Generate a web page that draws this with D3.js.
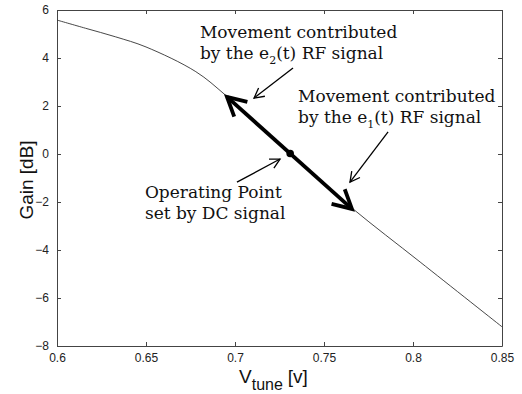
<!DOCTYPE html>
<html>
<head>
<meta charset="utf-8">
<script src="https://cdn.jsdelivr.net/npm/d3@7"></script>
<style>
  body { margin: 0; background: #fff; }
  .tick text { font-family: "Liberation Sans", Arial, sans-serif; font-size: 12px; fill: #222; }
  .note { font-family: "DejaVu Serif", serif; font-size: 17px; fill: #111; }
</style>
</head>
<body>
<div id="chart"></div>
<script>
// gain curve
const vtune = [0.600, 0.616, 0.633, 0.650, 0.678, 0.695, 0.731, 0.766, 0.804, 0.850];
const gain  = [5.58, 5.24, 4.88, 4.46, 3.43, 2.43, 0.00, -2.27, -4.50, -7.20];
const xTicks = [0.6, 0.65, 0.7, 0.75, 0.8, 0.85];
const yTicks = [-8, -6, -4, -2, 0, 2, 4, 6];

// operating point and the RF swing around it
const opPoint = [0.731, 0.02];
const swingEnds = [[0.6955, 2.38], [0.7657, -2.29]];

// annotation arrows: [from v, from g, to v, to g]
const noteArrows = [
  [0.7326, 3.58, 0.7107, 2.33],
  [0.7860, 0.92, 0.7646, -1.17],
  [0.7011, -1.17, 0.7253, -0.21]
];
// annotation texts: anchor [v, g], lines
const noteTexts = [
  { at: [0.6803, 4.85], lines: ["Movement contributed", ["by the e", "2", "(t) RF signal"]] },
  { at: [0.7354, 2.17], lines: ["Movement contributed", ["by the e", "1", "(t) RF signal"]] },
  { at: [0.6494, -1.83], lines: ["Operating Point", "set by DC signal"] }
];

const width = 522, height = 394;
const margin = { left: 57, top: 10, right: 20, bottom: 48 };
const innerWidth = width - margin.left - margin.right;
const innerHeight = height - margin.top - margin.bottom;

const svg = d3.select("#chart").append("svg")
  .attr("width", width)
  .attr("height", height);

const g = svg.append("g")
  .attr("transform", "translate(" + margin.left + "," + margin.top + ")");

const x = d3.scaleLinear().domain([0.6, 0.85]).range([0, innerWidth]);
const y = d3.scaleLinear().domain([-8, 6]).range([innerHeight, 0]);

const fmtX = d => "" + d;
const fmtY = d => (d < 0 ? "\u2212" + Math.abs(d) : "" + d);
const noLabels = a => a.selectAll(".tick text").remove();

// axes, ticks pointing inward (matlab style)
g.append("g")
  .attr("transform", "translate(0," + innerHeight + ")")
  .call(d3.axisBottom(x).tickValues(xTicks).tickFormat(fmtX).tickSizeInner(-4).tickSizeOuter(0).tickPadding(7));
g.append("g")
  .call(d3.axisTop(x).tickValues(xTicks).tickSizeInner(-4).tickSizeOuter(0))
  .call(noLabels);
g.append("g")
  .call(d3.axisLeft(y).tickValues(yTicks).tickFormat(fmtY).tickSizeInner(-4).tickSizeOuter(0).tickPadding(8));
g.append("g")
  .attr("transform", "translate(" + innerWidth + ",0)")
  .call(d3.axisRight(y).tickValues(yTicks).tickSizeInner(-4).tickSizeOuter(0))
  .call(noLabels);

g.selectAll(".domain, .tick line").attr("stroke", "#444");

// axis labels
svg.append("text")
  .attr("transform", "translate(" + 33 + "," + (margin.top + innerHeight / 2 + 2) + ") rotate(-90)")
  .attr("text-anchor", "middle")
  .style("font-family", "Liberation Sans, Arial, sans-serif")
  .style("font-size", "19px")
  .attr("fill", "#111")
  .text("Gain [dB]");

const xl = svg.append("text")
  .attr("x", 239)
  .attr("y", 383)
  .style("font-family", "Liberation Sans, Arial, sans-serif")
  .style("font-size", "19px")
  .attr("fill", "#111");
xl.append("tspan").text("V");
xl.append("tspan").attr("dy", 7).style("font-size", "16px").text("tune");
xl.append("tspan").attr("dy", -7).attr("dx", 5).text("[v]");

// gain curve
const line = d3.line()
  .x((d, i) => x(vtune[i]))
  .y(d => y(d))
  .curve(d3.curveCatmullRom);

g.append("path")
  .datum(gain)
  .attr("d", line)
  .attr("fill", "none")
  .attr("stroke", "#333")
  .attr("stroke-width", 0.9);

// arrow helper, open chevron heads
function arrow(x1, y1, x2, y2, w, headLen, both) {
  g.append("line")
    .attr("x1", x1).attr("y1", y1).attr("x2", x2).attr("y2", y2)
    .attr("stroke", "#000").attr("stroke-width", w);
  const heads = both ? [[x2, y2, x1, y1], [x1, y1, x2, y2]] : [[x2, y2, x1, y1]];
  heads.forEach(h => {
    const ang = Math.atan2(h[3] - h[1], h[2] - h[0]);
    const spread = 28 * Math.PI / 180;
    const p = [ang - spread, ang + spread].map(a => [h[0] + headLen * Math.cos(a), h[1] + headLen * Math.sin(a)]);
    g.append("path")
      .attr("d", "M" + p[0] + "L" + h[0] + "," + h[1] + "L" + p[1])
      .attr("fill", "none")
      .attr("stroke", "#000")
      .attr("stroke-width", w)
      .attr("stroke-linejoin", "miter");
  });
}

arrow(x(swingEnds[0][0]), y(swingEnds[0][1]), x(swingEnds[1][0]), y(swingEnds[1][1]), 3.8, 21, true);

g.append("circle")
  .attr("cx", x(opPoint[0]))
  .attr("cy", y(opPoint[1]))
  .attr("r", 3.8)
  .attr("fill", "#000");

noteArrows.forEach(a => arrow(x(a[0]), y(a[1]), x(a[2]), y(a[3]), 1.3, 11, false));

// annotation texts
noteTexts.forEach(n => {
  n.lines.forEach((ln, i) => {
    const t = g.append("text")
      .attr("class", "note")
      .attr("x", x(n.at[0]))
      .attr("y", y(n.at[1]) + i * 21);
    if (typeof ln === "string") {
      t.text(ln);
    } else {
      t.append("tspan").text(ln[0]);
      t.append("tspan").attr("dy", 5).style("font-size", "11px").text(ln[1]);
      t.append("tspan").attr("dy", -5).text(ln[2]);
    }
  });
});
</script>
</body>
</html>
